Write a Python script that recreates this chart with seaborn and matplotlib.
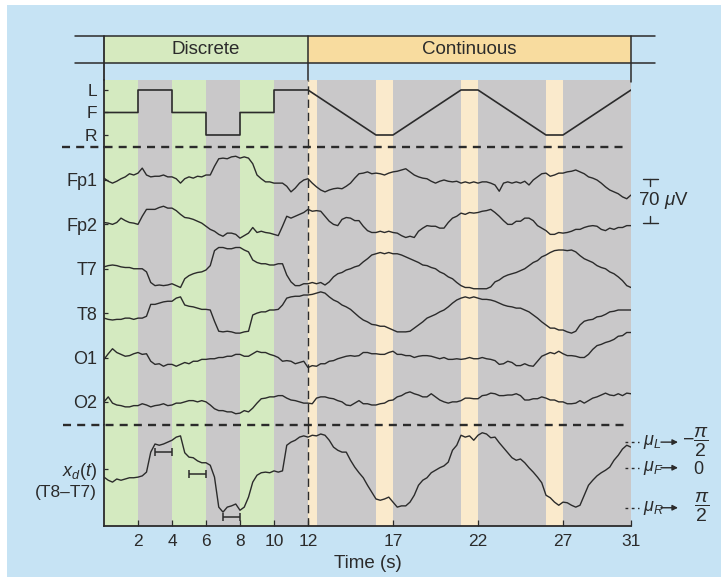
"""EEG control paradigm figure: discrete vs continuous cue, six channels and x_d(t)."""

import matplotlib.pyplot as plt
import numpy as np
import pandas as pd
import seaborn as sns
from matplotlib.lines import Line2D
from matplotlib.patches import Rectangle

W, H = 721, 577

BLUE = "#c6e3f4"
GREEN = "#d4eac0"
GRAY = "#c9c8c9"
CREAM = "#faeacc"
HEAD_GREEN = "#d6eabf"
HEAD_ORANGE = "#f8dc9f"
INK = "#2b2b2b"

# ---- data -------------------------------------------------------------
time_s = np.arange(0, 31.01, 0.25)

# cue: L = 1, F = 0, R = -1
ctrl_times = [0, 2, 2, 4, 4, 6, 6, 8, 8, 10, 10, 12, 16, 17, 21, 22, 26, 27, 31]
ctrl_levels = [0, 0, 1, 1, 0, 0, -1, -1, 0, 0, 1, 1, -1, -1, 1, 1, -1, -1, 1]

green_spans = [(0, 2), (4, 6), (8, 10)]
cream_spans = [(12, 12.5), (16, 17), (21, 22), (26, 27)]

channels = ["Fp1", "Fp2", "T7", "T8", "O1", "O2"]

fp1_uv = [3, -2, -5, -2, 2, 5, 10, 8, 11,
          19, 8, 5, 6, 6, 8, 5, 5,
          2, -5, 2, 5, 3, 6, 5, 8,
          8, 22, 34, 35, 34, 37, 38, 35,
          37, 35, 26, 8, 2, -3, -3, -5,
          -5, -5, -10, -19, -13, -5, 0, 2,
          -5, -11, -16, -19, -16, -14, -13, -14,
          -10, -5, 3, 10, 11, 13, 10, 11,
          10, 8, 11, 13, 14, 16, 18, 13,
          8, 5, 3, 2, -2, -5, -2, 0,
          -2, -3, -2, -5, -3, -5, -3, -5,
          -3, -3, -5, -8, -18, -5, -3, -5,
          -3, -5, -2, -8, 0, 5, 10, 11,
          6, 8, 11, 11, 13, 14, 16, 13,
          10, 5, 3, 0, -5, -11, -16, -19,
          -22, -27, -30, -24]

fp2_uv = [3, 2, 0, 3, 10, 6, 3, 2, 0,
          13, 24, 24, 24, 27, 29, 26, 26,
          22, 16, 11, 10, 8, 5, 2, -3,
          -8, -11, -16, -19, -14, -14, -16, -22,
          -18, -14, -5, -13, -11, -13, -14, -16,
          -18, -3, 13, 10, 13, 16, 19, 24,
          21, 22, 21, 13, 5, 0, -2, 8,
          11, 10, 6, 6, -3, -10, -13, -13,
          -11, -13, -11, -13, -14, -18, -21, -19,
          -21, -11, -6, -2, -3, -3, -6, -6,
          3, 10, 13, 18, 16, 19, 18, 19,
          21, 22, 24, 19, 13, 6, 0, 0,
          5, 5, 10, 10, 6, -2, -6, -10,
          -16, -16, -13, -14, -13, -11, -8, -8,
          -5, -3, -2, -3, -8, -10, -6, -8,
          -5, -5, -2, -2]

t7_uv = [3, 5, 6, 5, 3, 2, 2, 0, 0,
         0, -5, -22, -27, -26, -27, -26, -24,
         -27, -30, -16, -11, -8, -6, -5, -2,
         5, 29, 34, 34, 32, 32, 34, 34,
         30, 27, 14, 10, 8, 8, 6, 6,
         8, 8, -10, -21, -27, -27, -24, -24,
         -22, -24, -22, -26, -21, -13, -8, -6,
         -2, 0, 3, 5, 11, 16, 22, 24,
         26, 24, 26, 24, 24, 22, 19, 16,
         13, 10, 6, 5, 2, 0, -5, -8,
         -13, -16, -22, -27, -30, -30, -32, -32,
         -32, -32, -29, -21, -18, -13, -10, -8,
         -6, -3, 0, 5, 10, 13, 19, 22,
         26, 29, 30, 30, 29, 30, 27, 21,
         16, 13, 10, 5, 2, 0, -5, -8,
         -13, -19, -27, -30]

t8_uv = [-8, -10, -11, -10, -10, -8, -8, -10, -8,
         -8, -5, 14, 14, 16, 18, 19, 19,
         24, 26, 13, 11, 10, 8, 6, 6,
         5, -13, -29, -30, -29, -30, -32, -32,
         -30, -29, -3, 0, 2, 2, 5, 5,
         6, 13, 24, 26, 27, 27, 29, 29,
         30, 32, 34, 32, 26, 21, 18, 13,
         10, 6, 0, -6, -11, -14, -18, -19,
         -21, -21, -24, -27, -30, -30, -30, -29,
         -24, -19, -14, -8, -5, -2, 2, 5,
         10, 16, 21, 24, 26, 24, 26, 24,
         22, 22, 21, 19, 16, 13, 11, 10,
         8, 8, 5, 2, -3, -8, -14, -19,
         -24, -24, -27, -27, -30, -32, -29, -19,
         -13, -11, -10, -6, -5, -2, 2, 3,
         5, 5, 5, 5]

o1_uv = [-3, 6, 14, 8, 5, 2, 3, 6, 8,
         5, 6, -6, -11, -10, -14, -11, -11,
         -14, -11, -8, -10, -6, -6, -3, -3,
         -2, -2, 0, 0, 2, 2, 5, 5,
         2, 2, 6, 10, 8, 8, 5, 3,
         0, -6, -5, -6, -10, -8, -6, -16,
         -13, -14, -10, -10, -6, -5, -2, 0,
         2, 3, 2, 3, 8, 8, 6, 6,
         5, 5, 8, 10, 5, 5, 3, 3,
         0, 2, 3, 3, 2, 0, -2, 0,
         -3, -3, -2, -3, -2, 0, -2, -2,
         0, -2, -3, -5, -11, -10, -6, -8,
         -13, -13, -10, -13, -14, -6, 2, 5,
         8, 6, 10, 6, 3, 3, 2, 0,
         0, 5, 13, 19, 21, 24, 26, 29,
         34, 35, 40, 40]

o2_uv = [0, 8, -2, -5, -6, -8, -8, -6, -6,
         -3, -5, -8, -6, -5, -3, -6, -5,
         -2, -2, 0, 2, 2, 0, 2, 0,
         -5, -11, -14, -14, -16, -16, -19, -18,
         -14, -16, -10, -2, 5, 6, 8, 8,
         10, 10, 6, 3, 2, 0, -2, -2,
         -3, 6, 8, 8, 6, 5, 2, 0,
         -5, -6, -2, 2, -3, -3, -5, -5,
         -3, -2, 2, 3, 8, 10, 14, 16,
         13, 11, 8, 8, 13, 8, 3, 0,
         -2, 0, 0, 2, 6, 6, 5, 5,
         10, 11, 14, 13, 10, 10, 11, 11,
         13, 10, 3, 3, 5, 5, 8, 6,
         3, 3, 0, 0, -3, -3, -2, 2,
         -2, 2, 6, 8, 11, 14, 11, 10,
         13, 10, 14, 13]

xd_uv = [-13, -18, -21, -16, -18, -16, -14, -14, -13,
         -11, -5, 27, 40, 38, 40, 43, 46,
         51, 53, 26, 19, 18, 13, 10, 10,
         6, -13, -61, -69, -61, -59, -56, -66,
         -61, -45, -21, -10, -6, -5, -6, -3,
         -5, -3, 38, 43, 46, 51, 53, 51,
         54, 53, 56, 54, 46, 35, 30, 27,
         27, 14, 3, -6, -14, -26, -37, -48,
         -50, -48, -45, -53, -61, -59, -59, -53,
         -42, -26, -18, -14, -6, -2, 2, 5,
         11, 30, 38, 54, 51, 53, 46, 54,
         58, 56, 50, 51, 42, 34, 26, 18,
         14, 16, 10, 2, -5, -13, -22, -42,
         -46, -53, -58, -53, -54, -58, -61, -58,
         -42, -26, -18, -11, -6, -2, 3, 14,
         22, 32, 38, 35]

# class means of x_d and the windows they were taken over
mean_windows = [(3, 4), (5, 6), (7, 8)]
mean_levels_uv = [28, -8, -76]
mu_levels_uv = [43, 2, -62]
mu_names = [r"$\mu_L$", r"$\mu_F$", r"$\mu_R$"]
mu_angles = [r"$-\dfrac{\pi}{2}$", "0", r"$\dfrac{\pi}{2}$"]

x_ticks = [2, 4, 6, 8, 10, 12, 17, 22, 27, 31]

CH_STEP = 71  # uV between channel baselines
UV_PER_PX = 1.6

# ---- style -----------------------------------------------------------
sns.set_theme(style="white")
plt.rcParams["font.family"] = ["Liberation Sans", "DejaVu Sans"]
plt.rcParams["mathtext.fontset"] = "custom"
plt.rcParams["mathtext.rm"] = "Liberation Sans"
plt.rcParams["mathtext.it"] = "Liberation Sans:italic"
plt.rcParams["mathtext.bf"] = "Liberation Sans:bold"


def fx(px):
    return px / W


def fy(py):
    return 1 - py / H


def fig_line(fig, x0, y0, x1, y1, **kw):
    fig.add_artist(Line2D([fx(x0), fx(x1)], [fy(y0), fy(y1)],
                          transform=fig.transFigure, color=INK, **kw))


AX_L, AX_R = 104, 631


def px_to_axfrac(px):
    return (px - AX_L) / (AX_R - AX_L)


fig = plt.figure(figsize=(W / 100, H / 100), dpi=100)
fig.patch.set_facecolor("white")
fig.add_artist(Rectangle((fx(7), 0), 1, fy(5), transform=fig.transFigure,
                         facecolor=BLUE, edgecolor="none", zorder=-10))


def panel(top, bottom):
    ax = fig.add_axes([fx(AX_L), fy(bottom), (AX_R - AX_L) / W, (bottom - top) / H])
    ax.set_xlim(0, 31)
    return ax


ax_head = panel(35.7, 63.3)
ax_ctrl = panel(80, 146.7)
ax_eeg = panel(146.7, 425)
ax_xd = panel(425, 526)

# header boxes
ax_head.set_ylim(0, 1)
ax_head.axvspan(0, 12, color=HEAD_GREEN, lw=0)
ax_head.axvspan(12, 31, color=HEAD_ORANGE, lw=0)
ax_head.text(6, 0.5, "Discrete", ha="center", va="center", fontsize=13.5, color=INK)
ax_head.text(21.5, 0.5, "Continuous", ha="center", va="center", fontsize=13.5, color=INK)
ax_head.axis("off")

for ax in (ax_ctrl, ax_eeg, ax_xd):
    ax.set_facecolor(GRAY)
    for a, b in green_spans:
        ax.axvspan(a, b, color=GREEN, lw=0, zorder=0)
    for a, b in cream_spans:
        ax.axvspan(a, b, color=CREAM, lw=0, zorder=0)
    ax.axvline(12, color=INK, lw=1.0, ls=(0, (6, 3.5)), zorder=3)
    for side in ("top", "right", "bottom"):
        ax.spines[side].set_visible(False)
    ax.spines["left"].set_color(INK)
    ax.spines["left"].set_linewidth(1.3)
    ax.tick_params(axis="y", direction="in", length=3, width=0.9, pad=5,
                   labelsize=13, colors=INK, left=True)
    ax.tick_params(axis="x", bottom=False, labelbottom=False)
    ax.grid(False)

# cue signal
sns.lineplot(x=ctrl_times, y=ctrl_levels, estimator=None, sort=False,
             color=INK, lw=1.2, ax=ax_ctrl)
ax_ctrl.set_ylim(-1.52, 1.444)
ax_ctrl.set_yticks([1, 0, -1])
ax_ctrl.set_yticklabels(["L", "F", "R"], fontsize=12.5)

# EEG channels
eeg = pd.DataFrame({
    "time": np.tile(time_s, len(channels)),
    "channel": np.repeat(channels, len(time_s)),
    "uv": np.concatenate([fp1_uv, fp2_uv, t7_uv, t8_uv, o1_uv, o2_uv]),
})
offsets = {c: -i * CH_STEP for i, c in enumerate(channels)}
eeg["shown"] = eeg["uv"] + eeg["channel"].map(offsets)
sns.lineplot(data=eeg, x="time", y="shown", units="channel", estimator=None,
             color=INK, lw=1.0, ax=ax_eeg)
ax_eeg.set_ylim(-245 * UV_PER_PX, 33.3 * UV_PER_PX)
ax_eeg.set_yticks([offsets[c] for c in channels])
ax_eeg.set_yticklabels(channels)

# 70 uV scale bar
tr = ax_eeg.get_yaxis_transform()
bx = px_to_axfrac(650)
cap = px_to_axfrac(657.5) - bx
top, bot = 2, 2 - 70
ax_eeg.plot([bx - cap, bx + cap], [top, top], transform=tr, color=INK, lw=1, clip_on=False)
ax_eeg.plot([bx, bx], [top, top - 11], transform=tr, color=INK, lw=1, clip_on=False)
ax_eeg.plot([bx, bx], [bot + 11, bot], transform=tr, color=INK, lw=1, clip_on=False)
ax_eeg.plot([bx - cap, bx + cap], [bot, bot], transform=tr, color=INK, lw=1, clip_on=False)
ax_eeg.text(px_to_axfrac(663), (top + bot) / 2, r"70 $\mu$V", transform=tr,
            ha="center", va="center", fontsize=13.5, color=INK)

# x_d(t) = T8 - T7
sns.lineplot(x=time_s, y=xd_uv, estimator=None, color=INK, lw=1.0, ax=ax_xd)
ax_xd.errorbar([(a + b) / 2 for a, b in mean_windows], mean_levels_uv,
               xerr=[(b - a) / 2 for a, b in mean_windows], fmt="none",
               ecolor=INK, elinewidth=1.1, capsize=2.6, capthick=1.1, zorder=4)
ax_xd.set_ylim(-57 * UV_PER_PX, 44 * UV_PER_PX)
ax_xd.set_yticks([0])
ax_xd.set_yticklabels([r"$x_d(t)$"], fontsize=13)
ax_xd.spines["bottom"].set_visible(True)
ax_xd.spines["bottom"].set_color(INK)
ax_xd.spines["bottom"].set_linewidth(1.3)
ax_xd.set_xticks(x_ticks)
ax_xd.set_xticklabels([str(t) for t in x_ticks])
ax_xd.tick_params(axis="x", bottom=True, labelbottom=True, direction="in",
                  length=4, width=0.9, pad=6, labelsize=12.5, colors=INK)
tr_xd = ax_xd.get_yaxis_transform()
ax_xd.text(px_to_axfrac(97), -23 * UV_PER_PX, "(T8–T7)", transform=tr_xd,
           ha="right", va="center", fontsize=12.5, color=INK)
for lvl, name, ang in zip(mu_levels_uv, mu_names, mu_angles):
    ax_xd.plot([px_to_axfrac(625), px_to_axfrac(639)], [lvl, lvl], transform=tr_xd,
               color=INK, lw=1, ls=(0, (2, 2.5)), clip_on=False)
    ax_xd.text(px_to_axfrac(643), lvl, name, transform=tr_xd, ha="left",
               va="center", fontsize=13, color=INK)
    ax_xd.annotate("", xy=(px_to_axfrac(678), lvl), xytext=(px_to_axfrac(661), lvl),
                   xycoords=tr_xd, textcoords=tr_xd,
                   arrowprops=dict(arrowstyle="-|>", color=INK, lw=1, mutation_scale=8,
                                   shrinkA=0, shrinkB=0))
    if ang == "0":
        ax_xd.text(px_to_axfrac(698), lvl - 2, ang, transform=tr_xd, ha="center",
                   va="center", fontsize=13, color=INK)
    else:
        ax_xd.text(px_to_axfrac(709), lvl, ang, transform=tr_xd, ha="right",
                   va="center", fontsize=14, color=INK)

for ax in (ax_ctrl, ax_eeg, ax_xd):
    ax.set_xlabel("")
    ax.set_ylabel("")

fig.text(fx(368), fy(564), "Time (s)", ha="center", va="center", fontsize=13.5, color=INK)

# frame lines of the header and panel separators
fig_line(fig, 75, 35.7, 655, 35.7, lw=1.1)
fig_line(fig, 75, 63.3, 655, 63.3, lw=1.1)
fig_line(fig, 104, 35.7, 104, 80, lw=1.3)
fig_line(fig, 308, 35.7, 308, 80, lw=1.1)
fig_line(fig, 631, 35.7, 631, 82, lw=1.1)
fig_line(fig, 62, 146.7, 627, 146.7, lw=1.7, ls=(0, (3.4, 2.6)))
fig_line(fig, 63, 425, 627, 425, lw=1.7, ls=(0, (3.4, 2.6)))

fig.savefig("out.png", dpi=100)
